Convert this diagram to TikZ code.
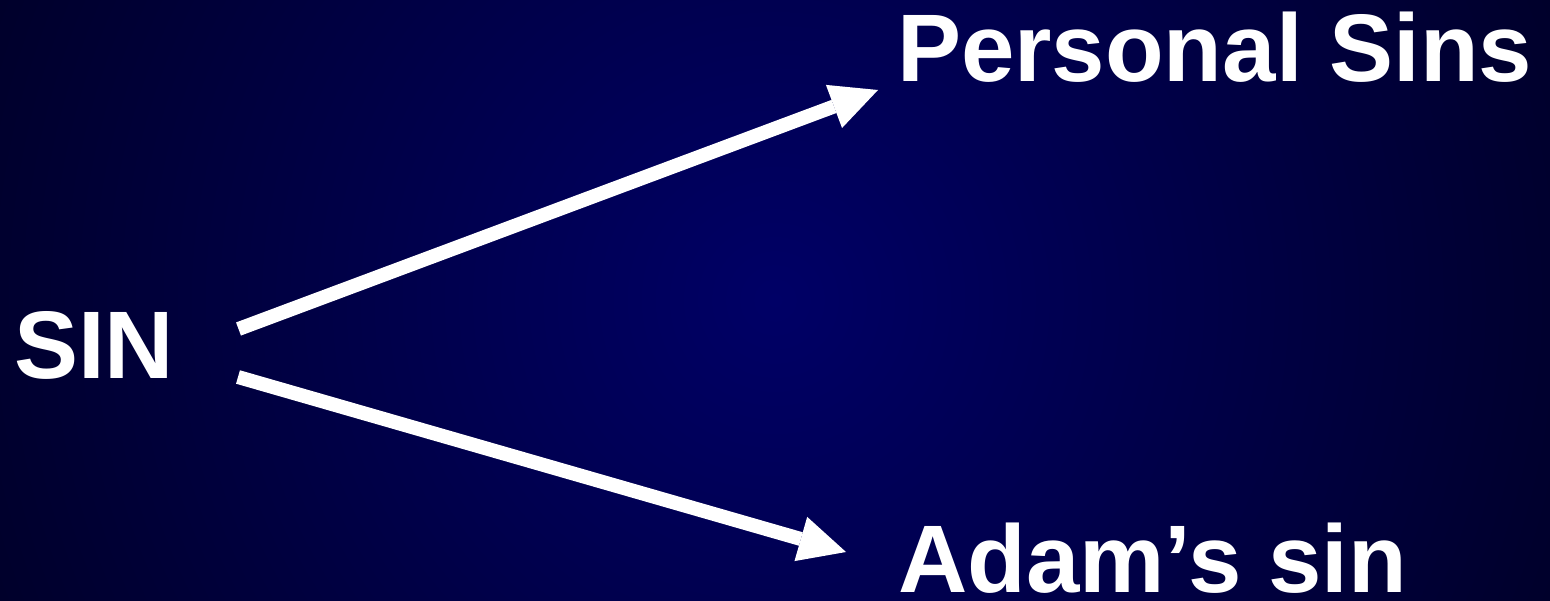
\documentclass[tikz,border=0pt]{standalone}
\usepackage{fontspec}
\setmainfont{Liberation Sans}
\usetikzlibrary{arrows.meta}
\definecolor{bginner}{RGB}{0,0,102}
\definecolor{bgouter}{RGB}{0,0,38}
\tikzset{
  label/.style={text=white, font=\bfseries\fontsize{96}{100}\selectfont, inner sep=0pt, anchor=base west},
  arr/.style={draw=white, line width=14pt, -{Triangle[length=47pt,width=46pt,line width=0pt]}}
}
\begin{document}
\begin{tikzpicture}[x=1pt,y=1pt]
\useasboundingbox (0,0) rectangle (1550,-601);
\fill[bgouter] (0,0) rectangle (1550,-601);
\begin{scope}
\clip (0,0) rectangle (1550,-601);
\shade[inner color=bginner, outer color=bgouter] (775,-300) circle (900pt);
\end{scope}
\node[label] (sin) at (14,-378) {SIN};
\node[label] (ps) at (897,-82) {Personal Sins};
\node[label] (adam) at (898,-592) {Adam’s sin};
\coordinate (s1) at (238.5,-329);
\coordinate (t1) at (878,-90);
\coordinate (s2) at (238,-377);
\coordinate (t2) at (846,-552);
\draw[arr] (s1) -- (t1);
\draw[arr] (s2) -- (t2);
\end{tikzpicture}
\end{document}
